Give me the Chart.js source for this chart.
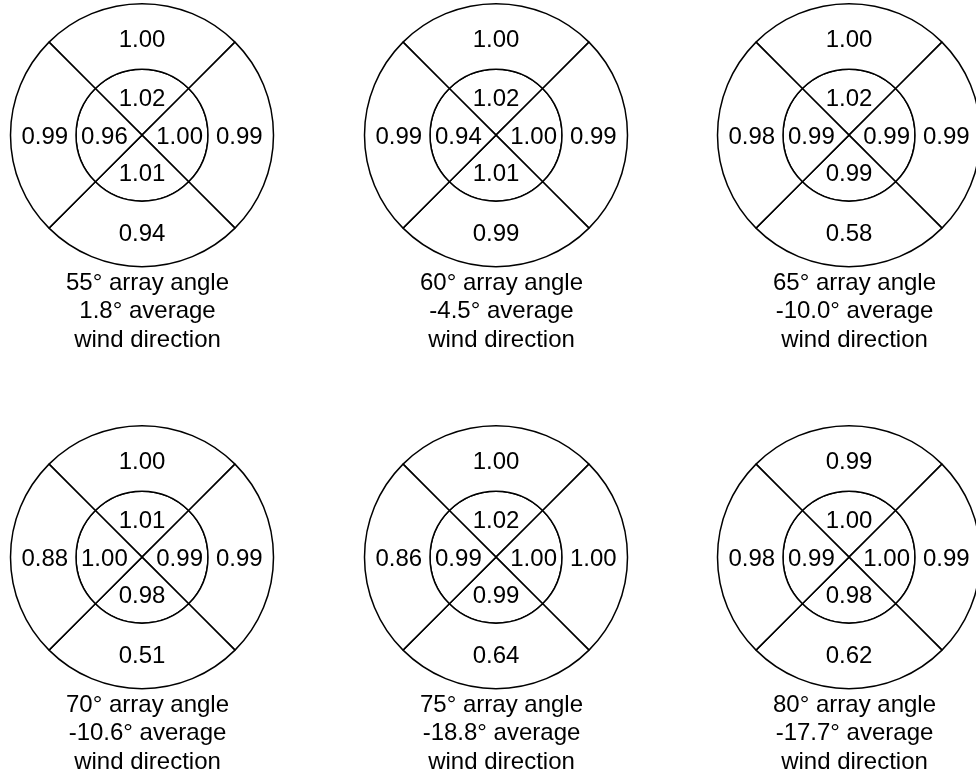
<!DOCTYPE html>
<html>
<head>
<meta charset="utf-8">
<script src="https://cdn.jsdelivr.net/npm/chart.js@4.4.1/dist/chart.umd.min.js"></script>
<style>
  html, body { margin: 0; padding: 0; background: #fff; overflow: hidden; }
  body { width: 976px; height: 780px; position: relative; }
  .panel { position: absolute; width: 300px; height: 356px; }
</style>
</head>
<body>
<div id="panels"></div>
<script>
// Ratios per sector, in order: top, right, bottom, left
var sectors = ['top', 'right', 'bottom', 'left'];
var sectorWeights = [1, 1, 1, 1];

var arrayAngles = [55, 60, 65, 70, 75, 80];
var windDirections = [1.8, -4.5, -10.0, -10.6, -18.8, -17.7];

var outerRatios = [
  [1.00, 0.99, 0.94, 0.99],
  [1.00, 0.99, 0.99, 0.99],
  [1.00, 0.99, 0.58, 0.98],
  [1.00, 0.99, 0.51, 0.88],
  [1.00, 1.00, 0.64, 0.86],
  [0.99, 0.99, 0.62, 0.98]
];
var innerRatios = [
  [1.02, 1.00, 1.01, 0.96],
  [1.02, 1.00, 1.01, 0.94],
  [1.02, 0.99, 0.99, 0.99],
  [1.01, 0.99, 0.98, 1.00],
  [1.02, 1.00, 0.99, 0.99],
  [1.00, 1.00, 0.98, 0.99]
];

// circle centres on the page
var centersX = [142, 495.5, 848.5];
var centersY = [135, 556.5];

var FONT = '24px "Liberation Sans", Arial, Helvetica, sans-serif';

Chart.defaults.font.family = '"Liberation Sans", Arial, Helvetica, sans-serif';
Chart.defaults.color = '#000';

/**
 * Plugin writing the ratio inside each sector
 */
var sectorLabels = {
  id: 'sectorLabels',
  afterDatasetsDraw: function (chart) {
    var ctx = chart.ctx;
    ctx.save();
    ctx.font = FONT;
    ctx.fillStyle = '#000';
    ctx.textAlign = 'center';
    ctx.textBaseline = 'middle';
    chart.data.datasets.forEach(function (dataset, di) {
      var meta = chart.getDatasetMeta(di);
      meta.data.forEach(function (arc, i) {
        var p = arc.getProps(['x', 'y', 'startAngle', 'endAngle', 'innerRadius', 'outerRadius'], true);
        var mid = (p.startAngle + p.endAngle) / 2;
        var r = p.innerRadius > 0 ? (p.innerRadius + p.outerRadius) / 2 - 1.5 : p.outerRadius * 0.57;
        ctx.fillText(dataset.ratios[i].toFixed(2), p.x + Math.cos(mid) * r, p.y + Math.sin(mid) * r + 2);
      });
    });
    ctx.restore();
  }
};

/**
 * Plugin writing the caption below the circle
 */
var caption = {
  id: 'caption',
  afterDraw: function (chart, args, opts) {
    var ctx = chart.ctx;
    var area = chart.chartArea;
    var x = (area.left + area.right) / 2 + 5.5;
    ctx.save();
    ctx.font = FONT;
    ctx.fillStyle = '#000';
    ctx.textAlign = 'center';
    ctx.textBaseline = 'middle';
    opts.lines.forEach(function (line, i) {
      ctx.fillText(line, x, area.bottom + 15.5 + i * 28.5);
    });
    ctx.restore();
  }
};

function createPanel(index) {
  var col = index % 3;
  var row = Math.floor(index / 3);
  var div = document.createElement('div');
  div.className = 'panel';
  div.style.left = (centersX[col] - 150) + 'px';
  div.style.top = (centersY[row] - 135) + 'px';
  var canvas = document.createElement('canvas');
  div.appendChild(canvas);
  document.getElementById('panels').appendChild(div);

  var ringStyle = {
    backgroundColor: '#fff',
    borderColor: '#000',
    borderWidth: 1.5,
    hoverOffset: 0,
    offset: 0
  };

  new Chart(canvas.getContext('2d'), {
    type: 'doughnut',
    data: {
      labels: sectors,
      datasets: [
        Object.assign({ data: sectorWeights, ratios: outerRatios[index], weight: 65.5 }, ringStyle),
        Object.assign({ data: sectorWeights, ratios: innerRatios[index], weight: 66 }, ringStyle)
      ]
    },
    options: {
      responsive: true,
      maintainAspectRatio: false,
      animation: false,
      events: [],
      cutout: 0,
      rotation: -45,
      layout: { padding: { top: 2.75, left: 17.75, right: 17.75, bottom: 88.5 } },
      plugins: {
        legend: { display: false },
        tooltip: { enabled: false },
        title: { display: false },
        caption: {
          lines: [
            arrayAngles[index] + '° array angle',
            windDirections[index].toFixed(1) + '° average',
            'wind direction'
          ]
        }
      }
    },
    plugins: [sectorLabels, caption]
  });
}

for (var i = 0; i < arrayAngles.length; i++) {
  createPanel(i);
}
</script>
</body>
</html>
